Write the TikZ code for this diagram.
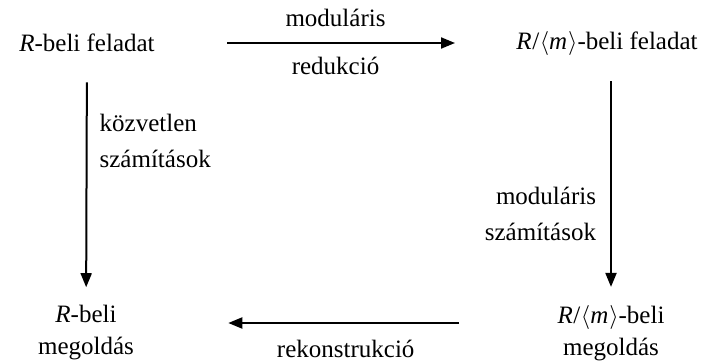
\documentclass[tikz,border=0pt]{standalone}
\usepackage{fontspec}
\setmainfont{Liberation Serif}
\usepackage{tikz}
\usetikzlibrary{arrows.meta}
\tikzset{
  every picture/.style={line join=round, >={Triangle[length=7pt,width=5.5pt]}},
  txt/.style={inner sep=0pt, font=\fontsize{12.5}{16}\selectfont},
  sidelbl/.style={inner sep=0pt, align=left, font=\fontsize{12.5}{18}\selectfont},
  arr/.style={->, line width=1pt},
}
\newcommand{\Rm}{\textit{R}\kern.3pt/\kern.3pt$\langle$\textit{m}\kern.5pt$\rangle$}
\begin{document}
\begin{tikzpicture}[x=0.5pt,y=-0.5pt]
\useasboundingbox (0,0) rectangle (712,364);
\node[txt] (tl) at (87,43) {\textit{R}-beli feladat};
\node[txt] (tr) at (607,43) {\Rm-beli feladat};
\node[txt,align=center] (bl) at (86,333) {\textit{R}-beli\\megoldás};
\node[txt,align=center] (br) at (611,333) {\Rm-beli\\megoldás};
\draw[arr,shorten <=36pt,shorten >=30.5pt](tl)--node[txt,above=7.5pt]{moduláris}node[txt,below=6.5pt]{redukció}(tr);
\draw[arr,shorten <=15pt,shorten >=9pt](tl)--node[sidelbl,right=6pt,pos=0.35]{közvetlen\\számítások}(bl);
\draw[arr,shorten <=13pt,shorten >=9pt](tr.south-|br)--node[sidelbl,left=7pt,pos=0.635,align=right]{moduláris\\számítások}(br);
\draw[arr,shorten <=49pt,shorten >=47pt]([yshift=5pt]br.west)--node[txt,below=8pt]{rekonstrukció}([yshift=5pt]bl.east);
\end{tikzpicture}
\end{document}
